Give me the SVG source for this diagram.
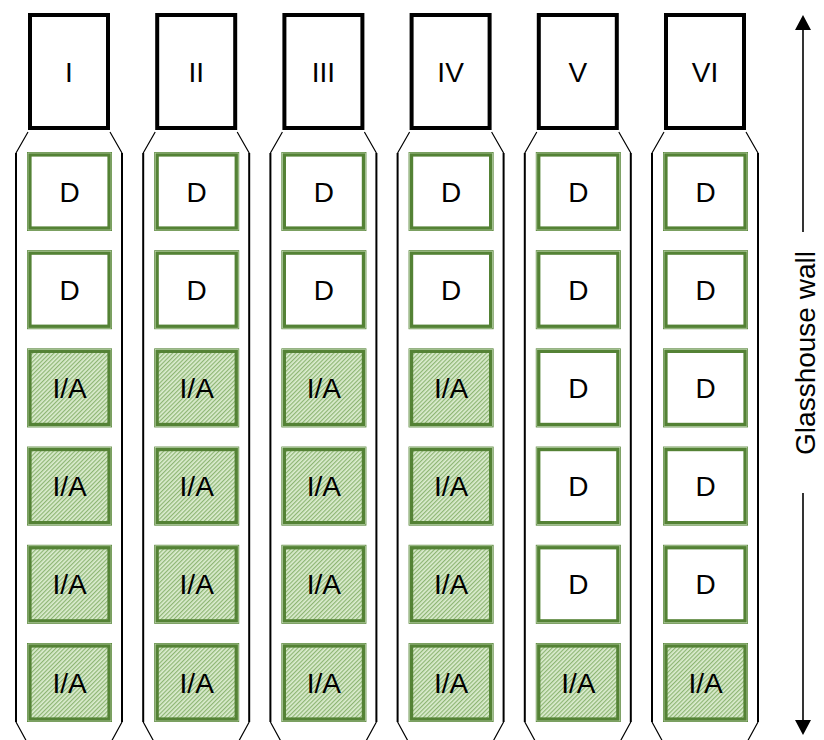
<svg xmlns="http://www.w3.org/2000/svg" width="824" height="740" viewBox="0 0 824 740">
<style>
.bg{fill:#ffffff}
.hdr{fill:#ffffff;stroke:#000000;stroke-width:4}
.vert{fill:none;stroke:#000000;stroke-width:2}
.diag{fill:none;stroke:#000000;stroke-width:1.2}
.cellD{fill:#ffffff;stroke:#548235;stroke-width:4.6}
.cellA{fill:url(#hatch);stroke:#548235;stroke-width:4.6}
.inner{fill:none;stroke:#d5e8c8;stroke-width:0.6}
.lbl{font-family:"Liberation Sans",Arial,sans-serif;font-size:28px;fill:#000000;text-anchor:middle}
.axis{fill:none;stroke:#000000;stroke-width:1.6}
</style>
<defs>
<pattern id="hatch" width="3" height="3" patternUnits="userSpaceOnUse" patternTransform="rotate(45)">
<rect width="3" height="3" fill="#dcedd0"/>
<rect width="1.2" height="3" fill="#8db573"/>
</pattern>
<marker id="arr" markerUnits="userSpaceOnUse" viewBox="0 0 15 16" markerWidth="15" markerHeight="16" refX="0" refY="8" orient="auto">
<path d="M0,0 L15,8 L0,16 z" fill="#000000"/>
</marker>
<g id="colOutline">
<path class="vert" d="M0,153 L0,722 M106,153 L106,722"/>
<path class="diag" d="M12,132 L0,153 M94,132 L106,153 M0,722 L12,744 M106,722 L94,744"/>
</g>
</defs>
<rect class="bg" x="0" y="0" width="824" height="740"/>

<g id="col1" transform="translate(16,0)">
<use href="#colOutline"/>
<g id="h1"><rect class="hdr" x="14" y="15" width="78" height="113"/><text class="lbl" x="53" y="82">I</text></g>
<g id="c1r1"><rect class="cellD" x="13.3" y="154.3" width="80.4" height="74.4"/><rect class="inner" x="12" y="153" width="83" height="77"/><text class="lbl" x="53.5" y="201.5">D</text></g>
<g id="c1r2"><rect class="cellD" x="13.3" y="252.5" width="80.4" height="74.4"/><rect class="inner" x="12" y="251.2" width="83" height="77"/><text class="lbl" x="53.5" y="299.7">D</text></g>
<g id="c1r3"><rect class="cellA" x="13.3" y="350.7" width="80.4" height="74.4"/><rect class="inner" x="12" y="349.4" width="83" height="77"/><text class="lbl" x="53.5" y="397.9">I/A</text></g>
<g id="c1r4"><rect class="cellA" x="13.3" y="448.9" width="80.4" height="74.4"/><rect class="inner" x="12" y="447.6" width="83" height="77"/><text class="lbl" x="53.5" y="496.1">I/A</text></g>
<g id="c1r5"><rect class="cellA" x="13.3" y="547.1" width="80.4" height="74.4"/><rect class="inner" x="12" y="545.8" width="83" height="77"/><text class="lbl" x="53.5" y="594.3">I/A</text></g>
<g id="c1r6"><rect class="cellA" x="13.3" y="645.3" width="80.4" height="74.4"/><rect class="inner" x="12" y="644" width="83" height="77"/><text class="lbl" x="53.5" y="692.5">I/A</text></g>
</g>

<g id="col2" transform="translate(143.2,0)">
<use href="#colOutline"/>
<g id="h2"><rect class="hdr" x="14" y="15" width="78" height="113"/><text class="lbl" x="53" y="82">II</text></g>
<g id="c2r1"><rect class="cellD" x="13.3" y="154.3" width="80.4" height="74.4"/><rect class="inner" x="12" y="153" width="83" height="77"/><text class="lbl" x="53.5" y="201.5">D</text></g>
<g id="c2r2"><rect class="cellD" x="13.3" y="252.5" width="80.4" height="74.4"/><rect class="inner" x="12" y="251.2" width="83" height="77"/><text class="lbl" x="53.5" y="299.7">D</text></g>
<g id="c2r3"><rect class="cellA" x="13.3" y="350.7" width="80.4" height="74.4"/><rect class="inner" x="12" y="349.4" width="83" height="77"/><text class="lbl" x="53.5" y="397.9">I/A</text></g>
<g id="c2r4"><rect class="cellA" x="13.3" y="448.9" width="80.4" height="74.4"/><rect class="inner" x="12" y="447.6" width="83" height="77"/><text class="lbl" x="53.5" y="496.1">I/A</text></g>
<g id="c2r5"><rect class="cellA" x="13.3" y="547.1" width="80.4" height="74.4"/><rect class="inner" x="12" y="545.8" width="83" height="77"/><text class="lbl" x="53.5" y="594.3">I/A</text></g>
<g id="c2r6"><rect class="cellA" x="13.3" y="645.3" width="80.4" height="74.4"/><rect class="inner" x="12" y="644" width="83" height="77"/><text class="lbl" x="53.5" y="692.5">I/A</text></g>
</g>

<g id="col3" transform="translate(270.4,0)">
<use href="#colOutline"/>
<g id="h3"><rect class="hdr" x="14" y="15" width="78" height="113"/><text class="lbl" x="53" y="82">III</text></g>
<g id="c3r1"><rect class="cellD" x="13.3" y="154.3" width="80.4" height="74.4"/><rect class="inner" x="12" y="153" width="83" height="77"/><text class="lbl" x="53.5" y="201.5">D</text></g>
<g id="c3r2"><rect class="cellD" x="13.3" y="252.5" width="80.4" height="74.4"/><rect class="inner" x="12" y="251.2" width="83" height="77"/><text class="lbl" x="53.5" y="299.7">D</text></g>
<g id="c3r3"><rect class="cellA" x="13.3" y="350.7" width="80.4" height="74.4"/><rect class="inner" x="12" y="349.4" width="83" height="77"/><text class="lbl" x="53.5" y="397.9">I/A</text></g>
<g id="c3r4"><rect class="cellA" x="13.3" y="448.9" width="80.4" height="74.4"/><rect class="inner" x="12" y="447.6" width="83" height="77"/><text class="lbl" x="53.5" y="496.1">I/A</text></g>
<g id="c3r5"><rect class="cellA" x="13.3" y="547.1" width="80.4" height="74.4"/><rect class="inner" x="12" y="545.8" width="83" height="77"/><text class="lbl" x="53.5" y="594.3">I/A</text></g>
<g id="c3r6"><rect class="cellA" x="13.3" y="645.3" width="80.4" height="74.4"/><rect class="inner" x="12" y="644" width="83" height="77"/><text class="lbl" x="53.5" y="692.5">I/A</text></g>
</g>

<g id="col4" transform="translate(397.6,0)">
<use href="#colOutline"/>
<g id="h4"><rect class="hdr" x="14" y="15" width="78" height="113"/><text class="lbl" x="53" y="82">IV</text></g>
<g id="c4r1"><rect class="cellD" x="13.3" y="154.3" width="80.4" height="74.4"/><rect class="inner" x="12" y="153" width="83" height="77"/><text class="lbl" x="53.5" y="201.5">D</text></g>
<g id="c4r2"><rect class="cellD" x="13.3" y="252.5" width="80.4" height="74.4"/><rect class="inner" x="12" y="251.2" width="83" height="77"/><text class="lbl" x="53.5" y="299.7">D</text></g>
<g id="c4r3"><rect class="cellA" x="13.3" y="350.7" width="80.4" height="74.4"/><rect class="inner" x="12" y="349.4" width="83" height="77"/><text class="lbl" x="53.5" y="397.9">I/A</text></g>
<g id="c4r4"><rect class="cellA" x="13.3" y="448.9" width="80.4" height="74.4"/><rect class="inner" x="12" y="447.6" width="83" height="77"/><text class="lbl" x="53.5" y="496.1">I/A</text></g>
<g id="c4r5"><rect class="cellA" x="13.3" y="547.1" width="80.4" height="74.4"/><rect class="inner" x="12" y="545.8" width="83" height="77"/><text class="lbl" x="53.5" y="594.3">I/A</text></g>
<g id="c4r6"><rect class="cellA" x="13.3" y="645.3" width="80.4" height="74.4"/><rect class="inner" x="12" y="644" width="83" height="77"/><text class="lbl" x="53.5" y="692.5">I/A</text></g>
</g>

<g id="col5" transform="translate(524.8,0)">
<use href="#colOutline"/>
<g id="h5"><rect class="hdr" x="14" y="15" width="78" height="113"/><text class="lbl" x="53" y="82">V</text></g>
<g id="c5r1"><rect class="cellD" x="13.3" y="154.3" width="80.4" height="74.4"/><rect class="inner" x="12" y="153" width="83" height="77"/><text class="lbl" x="53.5" y="201.5">D</text></g>
<g id="c5r2"><rect class="cellD" x="13.3" y="252.5" width="80.4" height="74.4"/><rect class="inner" x="12" y="251.2" width="83" height="77"/><text class="lbl" x="53.5" y="299.7">D</text></g>
<g id="c5r3"><rect class="cellD" x="13.3" y="350.7" width="80.4" height="74.4"/><rect class="inner" x="12" y="349.4" width="83" height="77"/><text class="lbl" x="53.5" y="397.9">D</text></g>
<g id="c5r4"><rect class="cellD" x="13.3" y="448.9" width="80.4" height="74.4"/><rect class="inner" x="12" y="447.6" width="83" height="77"/><text class="lbl" x="53.5" y="496.1">D</text></g>
<g id="c5r5"><rect class="cellD" x="13.3" y="547.1" width="80.4" height="74.4"/><rect class="inner" x="12" y="545.8" width="83" height="77"/><text class="lbl" x="53.5" y="594.3">D</text></g>
<g id="c5r6"><rect class="cellA" x="13.3" y="645.3" width="80.4" height="74.4"/><rect class="inner" x="12" y="644" width="83" height="77"/><text class="lbl" x="53.5" y="692.5">I/A</text></g>
</g>

<g id="col6" transform="translate(652,0)">
<use href="#colOutline"/>
<g id="h6"><rect class="hdr" x="14" y="15" width="78" height="113"/><text class="lbl" x="53" y="82">VI</text></g>
<g id="c6r1"><rect class="cellD" x="13.3" y="154.3" width="80.4" height="74.4"/><rect class="inner" x="12" y="153" width="83" height="77"/><text class="lbl" x="53.5" y="201.5">D</text></g>
<g id="c6r2"><rect class="cellD" x="13.3" y="252.5" width="80.4" height="74.4"/><rect class="inner" x="12" y="251.2" width="83" height="77"/><text class="lbl" x="53.5" y="299.7">D</text></g>
<g id="c6r3"><rect class="cellD" x="13.3" y="350.7" width="80.4" height="74.4"/><rect class="inner" x="12" y="349.4" width="83" height="77"/><text class="lbl" x="53.5" y="397.9">D</text></g>
<g id="c6r4"><rect class="cellD" x="13.3" y="448.9" width="80.4" height="74.4"/><rect class="inner" x="12" y="447.6" width="83" height="77"/><text class="lbl" x="53.5" y="496.1">D</text></g>
<g id="c6r5"><rect class="cellD" x="13.3" y="547.1" width="80.4" height="74.4"/><rect class="inner" x="12" y="545.8" width="83" height="77"/><text class="lbl" x="53.5" y="594.3">D</text></g>
<g id="c6r6"><rect class="cellA" x="13.3" y="645.3" width="80.4" height="74.4"/><rect class="inner" x="12" y="644" width="83" height="77"/><text class="lbl" x="53.5" y="692.5">I/A</text></g>
</g>

<g id="connectors">
<line class="axis" x1="803" y1="232" x2="803" y2="30" marker-end="url(#arr)"/>
<line class="axis" x1="803" y1="493" x2="803" y2="720" marker-end="url(#arr)"/>
</g>
<g id="wall-label">
<text class="lbl" transform="translate(815,353) rotate(-90)" x="0" y="0">Glasshouse wall</text>
</g>
</svg>
